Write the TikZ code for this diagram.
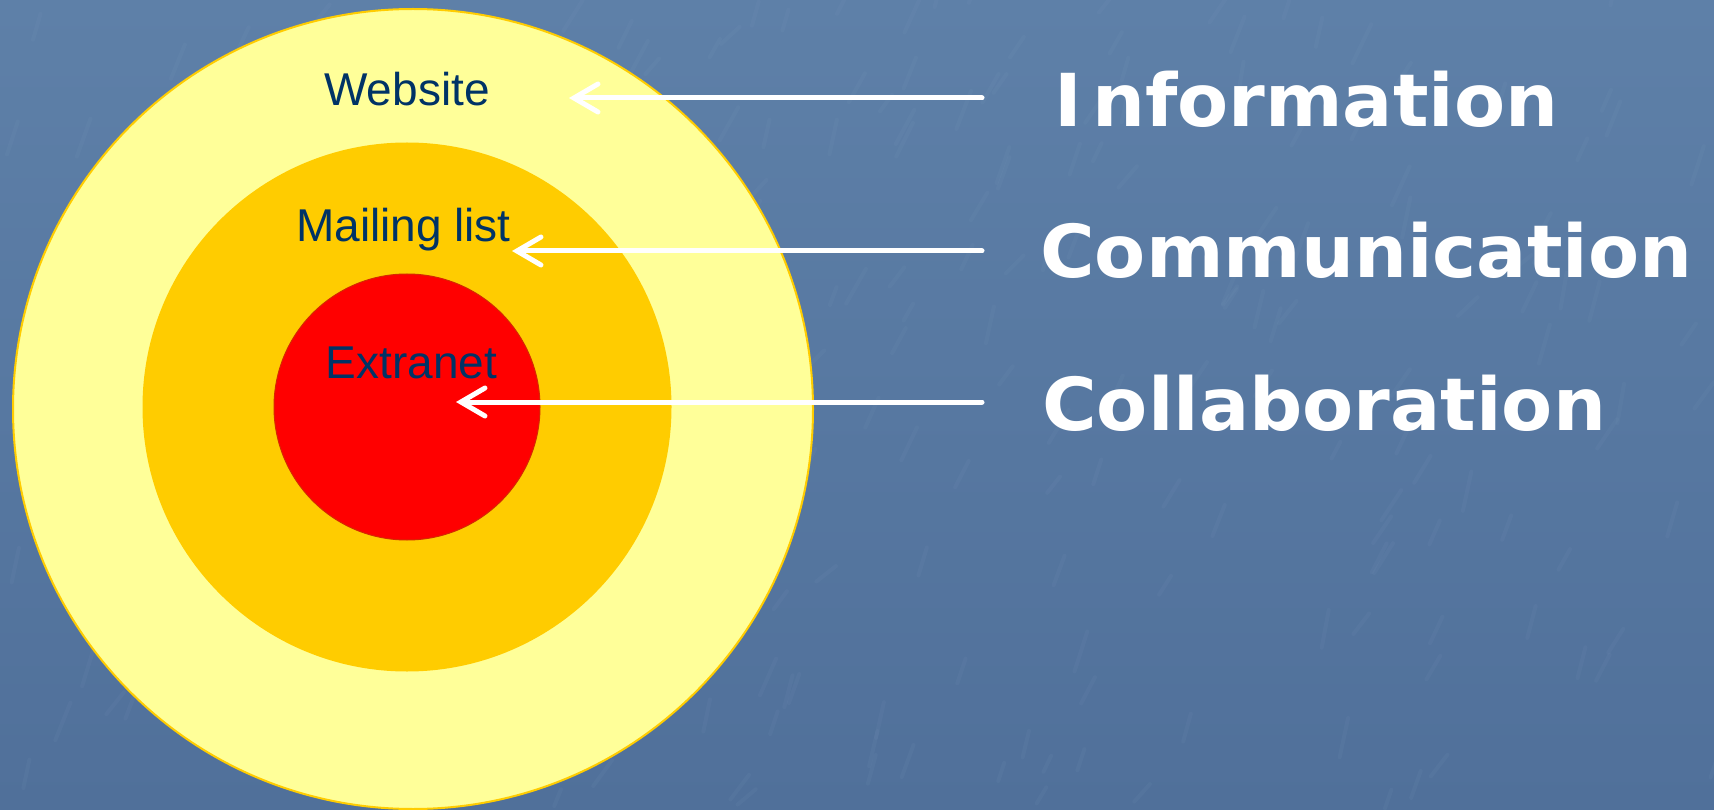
\documentclass[tikz,border=0pt]{standalone}
\usepackage{fontspec}
\setmainfont{Liberation Sans}
\newfontfamily\boldlab{DejaVu Sans}[BoldFont={DejaVu Sans Bold}]
\usetikzlibrary{arrows.meta}
\definecolor{bgtop}{HTML}{5E80A8}
\definecolor{bgbot}{HTML}{50709A}
\definecolor{streak}{HTML}{8FAACB}
\definecolor{paleyellow}{HTML}{FFFF99}
\definecolor{gold}{HTML}{FFCC00}
\definecolor{navy}{HTML}{003366}
\definecolor{redborder}{HTML}{D42A00}
\tikzset{
  ring/.style={circle, inner sep=0pt},
  innerlabel/.style={anchor=base, text=navy, inner sep=0pt, font=\fontsize{46pt}{55pt}\selectfont},
  sidelabel/.style={anchor=base west, text=white, inner sep=0pt, xscale=1.02, transform shape,
    font=\boldlab\bfseries\fontsize{73pt}{86pt}\selectfont},
  pointer/.style={draw=white, line width=5pt, line cap=round,
    -{Straight Barb[length=24pt, width=28pt, line width=5pt, line cap=round]}},
}
\begin{document}
\begin{tikzpicture}[x=1pt, y=-1pt]
\useasboundingbox (0,0) rectangle (1714,810);
\shade[top color=bgtop, bottom color=bgbot] (0,0) rectangle (1714,810);
% subtle texture streaks
\pgfmathsetseed{7}
\foreach \i in {1,...,260}{
  \pgfmathsetmacro{\px}{rnd*1714}
  \pgfmathsetmacro{\py}{rnd*810}
  \pgfmathsetmacro{\dx}{6+rnd*14}
  \pgfmathsetmacro{\dy}{-15-rnd*25}
  \draw[streak, opacity=0.07, line width=4pt, line cap=round] (\px,\py) -- ++(\dx,\dy);
}
% rings
\node[ring, minimum size=800pt, fill=paleyellow, draw=gold, line width=2pt] (outer) at (413,409) {};
\node[ring, minimum size=529pt, fill=gold] (middle) at (407,407) {};
\node[ring, minimum size=266pt, fill=red, draw=redborder, line width=1pt] (inner) at (407,407) {};
% inner labels
\node[innerlabel] (website) at (407,106) {Website};
\node[innerlabel] (mailing) at (403.5,242) {Mailing list};
\node[innerlabel] (extranet) at (411.5,378) {Extranet};
% side labels
\node[sidelabel] (information) at (1054,127) {I\kern10pt nformation};
\node[sidelabel] (communication) at (1040,278) {Communication};
\node[sidelabel] (collaboration) at (1042,430) {Collaboration};
% arrow anchors
\coordinate (infoStart) at (982,98);
\coordinate (infoTip) at (569,98);
\coordinate (commStart) at (982,251);
\coordinate (commTip) at (512,251);
\coordinate (collStart) at (982,402);
\coordinate (collTip) at (456,402);
\draw[pointer] (infoStart) -- (infoTip);
\draw[pointer] (commStart) -- (commTip);
\draw[pointer] (collStart) -- (collTip);
\end{tikzpicture}
\end{document}
